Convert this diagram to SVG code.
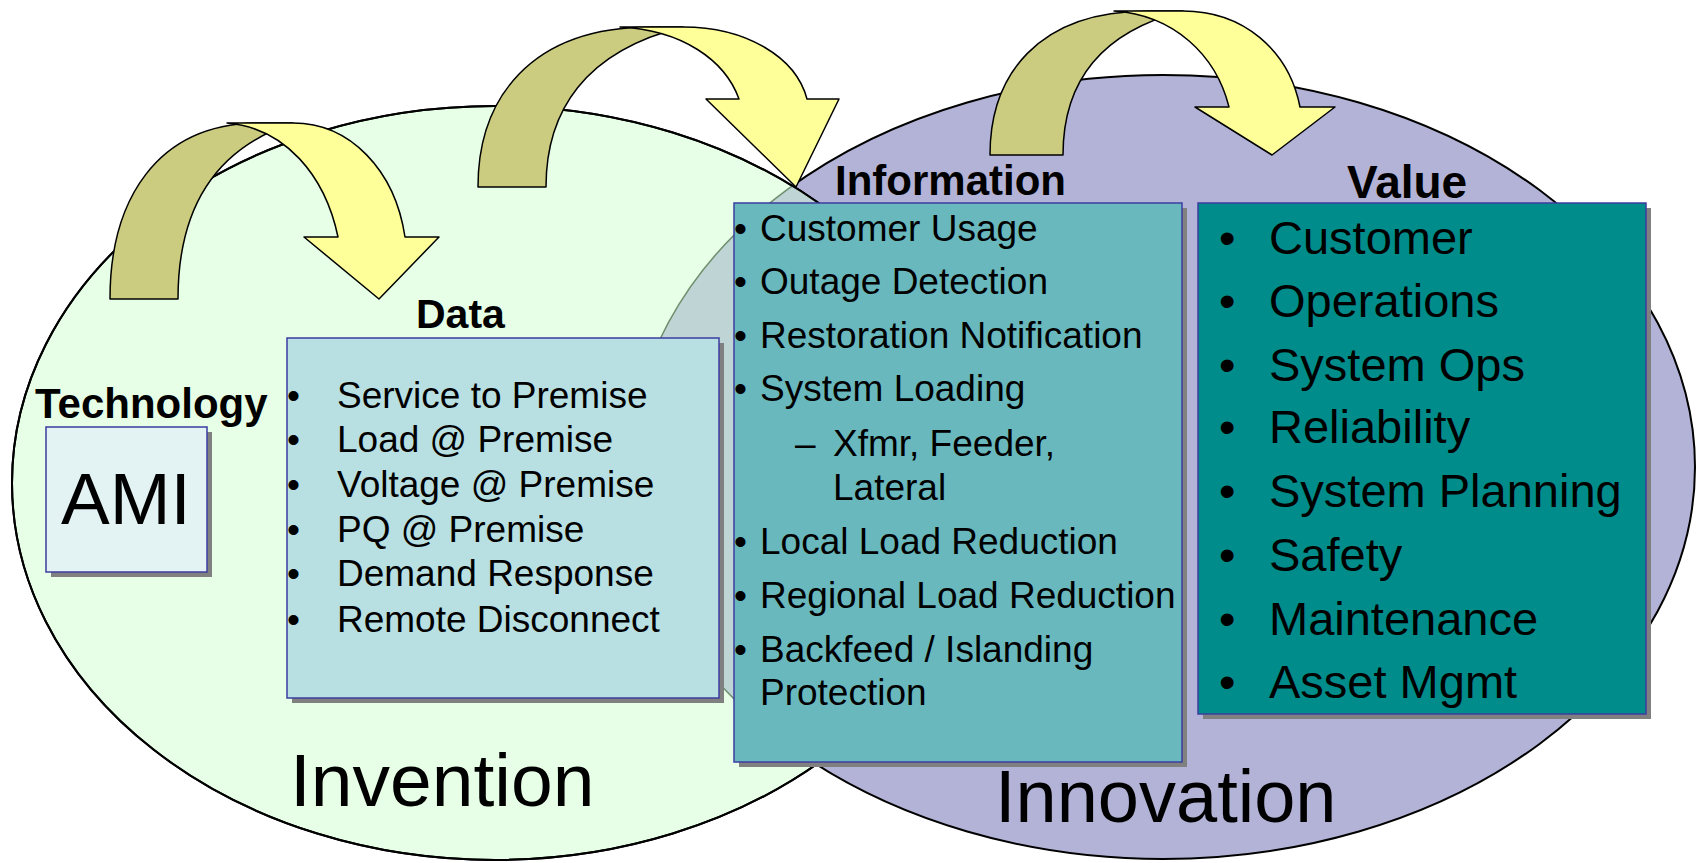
<svg xmlns="http://www.w3.org/2000/svg" width="1696" height="863" viewBox="0 0 1696 863">
<defs>
<clipPath id="clipGreen"><ellipse cx="495" cy="483" rx="483" ry="377"/></clipPath>
<style>
text{font-family:"Liberation Sans",Arial,sans-serif;fill:#000}
.lbl{font-weight:bold}
.shadow{fill:#808080}
.box{stroke:#3C3CA0;stroke-width:1.5}
.olive{fill:#CCCC80;stroke:#000;stroke-width:1.5;stroke-linejoin:round}
.yellow{fill:#FFFF99;stroke:#000;stroke-width:1.5;stroke-linejoin:round}
.t37{font-size:37px}
.t47{font-size:47px}
.big{font-size:75px}
</style>
</defs>
<rect width="1696" height="863" fill="#fff"/>
<g id="ellipses">
<ellipse id="innovation-ellipse" cx="1163" cy="467" rx="532" ry="392" fill="#B3B3D7" stroke="#000" stroke-width="2"/>
<ellipse id="invention-ellipse" cx="495" cy="483" rx="483" ry="377" fill="#E6FFE6" stroke="#000" stroke-width="2"/>
<ellipse id="overlap" cx="1163" cy="467" rx="532" ry="392" fill="#BFD4D4" stroke="#6F8F6F" stroke-width="1.5" clip-path="url(#clipGreen)"/>
<ellipse cx="495" cy="483" rx="483" ry="377" fill="none" stroke="#000" stroke-width="2"/>
<text class="big" x="290" y="806">Invention</text>
<text class="big" x="995" y="822" style="font-size:74px">Innovation</text>
</g>
<g id="connectors">
<path class="olive" d="M110,299 C110,202 155,123 260,123 L293,123 C210,150 178,215 178,299 Z"/>
<path class="yellow" d="M227,123 L293,123 C350,123 395,170 405,237 L439,237 L379,299 L304,237 L338,237 C325,175 285,128 227,123 Z"/>
<path class="olive" d="M478,187 C478,99 530,27 651,27 L683,27 C585,51 546,111 546,187 Z"/>
<path class="yellow" d="M620,27 L683,27 C746,27 796,57 807,99 L839,99 L796,187 L706,99 L739,99 C725,60 682,30 620,27 Z"/>
<path class="olive" d="M990,155 C990,76 1037,11 1148,11 L1183,11 C1097,33 1063,86 1063,155 Z"/>
<path class="yellow" d="M1114,11 L1183,11 C1243,11 1289,50 1300,107 L1335,107 L1272,155 L1195,107 L1229,107 C1216,55 1174,15 1114,11 Z"/>
</g>
<g id="technology">
<text class="lbl" x="35" y="418" style="font-size:42px">Technology</text>
<rect class="shadow" x="51" y="432" width="161" height="145"/>
<rect class="box" x="46" y="427" width="161" height="145" fill="#E3F2F2"/>
<text x="126" y="524" text-anchor="middle" style="font-size:73px">AMI</text>
</g>
<g id="data">
<text class="lbl" x="416" y="328" style="font-size:41px">Data</text>
<rect class="shadow" x="292" y="343" width="432" height="360"/>
<rect class="box" x="287" y="338" width="432" height="360" fill="#B8DFE2"/>
<g class="t37">
<text x="287" y="408">•</text><text x="337" y="408">Service to Premise</text>
<text x="287" y="452">•</text><text x="337" y="452">Load @ Premise</text>
<text x="287" y="497">•</text><text x="337" y="497">Voltage @ Premise</text>
<text x="287" y="542">•</text><text x="337" y="542">PQ @ Premise</text>
<text x="287" y="586">•</text><text x="337" y="586">Demand Response</text>
<text x="287" y="632">•</text><text x="337" y="632">Remote Disconnect</text>
</g>
</g>
<g id="information">
<text class="lbl" x="835" y="195" style="font-size:42px">Information</text>
<rect class="shadow" x="739" y="208" width="448" height="559"/>
<rect class="box" x="734" y="203" width="448" height="559" fill="#69B8BE"/>
<g class="t37">
<text x="734" y="241">•</text><text x="760" y="241">Customer Usage</text>
<text x="734" y="294">•</text><text x="760" y="294">Outage Detection</text>
<text x="734" y="348">•</text><text x="760" y="348">Restoration Notification</text>
<text x="734" y="401">•</text><text x="760" y="401">System Loading</text>
<text x="795" y="456">–</text><text x="833" y="456">Xfmr, Feeder,</text>
<text x="833" y="500">Lateral</text>
<text x="734" y="554">•</text><text x="760" y="554">Local Load Reduction</text>
<text x="734" y="608">•</text><text x="760" y="608">Regional Load Reduction</text>
<text x="734" y="662">•</text><text x="760" y="662">Backfeed / Islanding</text>
<text x="760" y="705">Protection</text>
</g>
</g>
<g id="value">
<text class="lbl" x="1347" y="198" style="font-size:46px">Value</text>
<rect class="shadow" x="1203" y="208" width="448" height="511"/>
<rect class="box" x="1198" y="203" width="448" height="511" fill="#008C8A"/>
<g class="t47">
<text x="1219" y="254">•</text><text x="1269" y="254">Customer</text>
<text x="1219" y="317">•</text><text x="1269" y="317">Operations</text>
<text x="1219" y="381">•</text><text x="1269" y="381">System Ops</text>
<text x="1219" y="443">•</text><text x="1269" y="443">Reliability</text>
<text x="1219" y="507">•</text><text x="1269" y="507">System Planning</text>
<text x="1219" y="571">•</text><text x="1269" y="571">Safety</text>
<text x="1219" y="635">•</text><text x="1269" y="635">Maintenance</text>
<text x="1219" y="698">•</text><text x="1269" y="698">Asset Mgmt</text>
</g>
</g>
</svg>
